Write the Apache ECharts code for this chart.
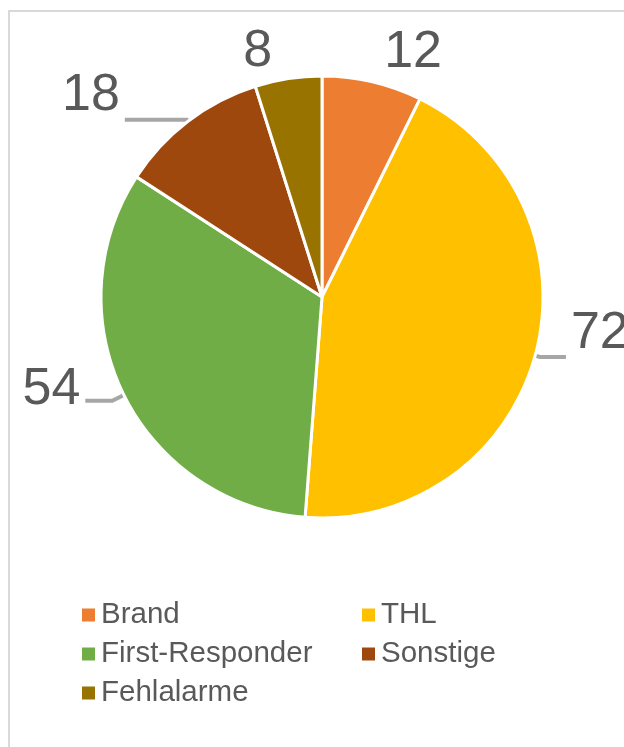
<!DOCTYPE html>
<html>
<head>
<meta charset="utf-8">
<script src="https://cdn.jsdelivr.net/npm/echarts@6/dist/echarts.min.js"></script>
<style>
html,body{margin:0;padding:0;background:#fff;}
#chart{width:624px;height:747px;}
</style>
</head>
<body>
<div id="chart"></div>
<script>
const categories = ['Brand', 'THL', 'First-Responder', 'Sonstige', 'Fehlalarme'];
const values = [12, 72, 54, 18, 8];
const colors = ['#ED7D31', '#FFC000', '#70AD47', '#9E480E', '#997300'];
const legendColumn1 = ['Brand', 'First-Responder', 'Fehlalarme'];
const legendColumn2 = ['THL', 'Sonstige'];

// label styling per slice (leader lengths, vertical offsets)
const labelStyles = [
  { len: 30, len2: 0, dy: 0, line: false },
  { len: 5, len2: 26, dy: -23, line: true },
  { len: 13, len2: 27, dy: -11, line: true },
  { len: 2, len2: 62, dy: -24, line: true },
  { len: 27, len2: 7, dy: 0, line: false }
];

const chart = echarts.init(document.getElementById('chart'), null, { renderer: 'canvas' });

const data = categories.map((name, i) => ({
  name: name,
  value: values[i],
  itemStyle: { color: colors[i] },
  labelLine: {
    show: labelStyles[i].line,
    length: labelStyles[i].len,
    length2: labelStyles[i].len2
  }
}));

const legendBase = {
  orient: 'vertical',
  top: 595,
  icon: 'rect',
  itemWidth: 13,
  itemHeight: 13,
  itemGap: 9,
  itemStyle: { borderWidth: 0 },
  textStyle: {
    fontFamily: 'Liberation Sans',
    fontSize: 29.5,
    color: '#595959',
    padding: [0, 0, 0, 1]
  },
  selectedMode: false
};

chart.setOption({
  backgroundColor: '#ffffff',
  animation: false,
  graphic: [{
    type: 'rect',
    z: -1,
    shape: { x: 9, y: 11, width: 700, height: 800 },
    style: { fill: 'none', stroke: '#d9d9d9', lineWidth: 2 }
  }],
  legend: [
    Object.assign({}, legendBase, { data: legendColumn1, left: 77 }),
    Object.assign({}, legendBase, { data: legendColumn2, left: 357 })
  ],
  series: [{
    type: 'pie',
    center: [322, 297],
    radius: [0, 221],
    startAngle: 90,
    clockwise: true,
    avoidLabelOverlap: false,
    emphasis: { disabled: true },
    itemStyle: { borderColor: '#ffffff', borderWidth: 3 },
    label: {
      show: true,
      position: 'outside',
      formatter: '{c}',
      fontFamily: 'Liberation Sans',
      fontSize: 52,
      color: '#595959',
      distanceToLabelLine: 5
    },
    labelLine: {
      show: true,
      lineStyle: { color: '#A6A6A6', width: 4 }
    },
    labelLayout: function (params) {
      return { dy: labelStyles[params.dataIndex].dy };
    },
    data: data
  }]
});
</script>
</body>
</html>
